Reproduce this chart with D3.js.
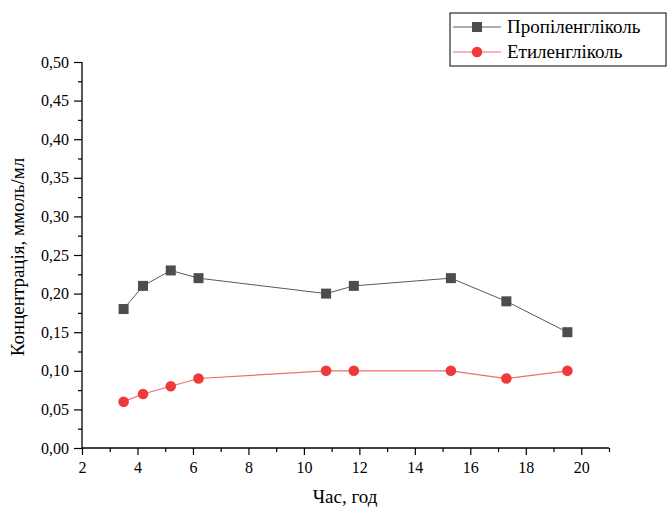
<!DOCTYPE html>
<html>
<head>
<meta charset="utf-8">
<script src="https://cdn.jsdelivr.net/npm/d3@7"></script>
<style>
  html, body { margin: 0; padding: 0; background: #fff; }
</style>
</head>
<body>
<div id="chart"></div>
<script>
// --- data ---
const hours = [3.5, 4.2, 5.2, 6.2, 10.8, 11.8, 15.3, 17.3, 19.5];
const propylene = [0.18, 0.21, 0.23, 0.22, 0.20, 0.21, 0.22, 0.19, 0.15];
const ethylene = [0.06, 0.07, 0.08, 0.09, 0.10, 0.10, 0.10, 0.09, 0.10];
const seriesNames = ["Пропіленгліколь", "Етиленгліколь"];
const xTicks = [2, 4, 6, 8, 10, 12, 14, 16, 18, 20];
const yTicks = [0, 0.05, 0.1, 0.15, 0.2, 0.25, 0.3, 0.35, 0.4, 0.45, 0.5];

const SERIF = "'Liberation Serif', 'Times New Roman', serif";
const W = 668, H = 507;
const svg = d3.select("#chart").append("svg")
    .attr("width", W).attr("height", H);

const x = d3.scaleLinear().domain([2, 21]).range([82, 609]);
const y = d3.scaleLinear().domain([0, 0.5]).range([448, 62]);
const fmt = v => d3.format(".2f")(v).replace(".", ",");

// minor ticks
const xMinor = d3.range(3, 22, 2);
const yMinor = d3.range(0.025, 0.5, 0.05);

const gx = svg.append("g").attr("transform", `translate(0,${y(0)})`);
gx.call(d3.axisBottom(x).tickValues(xTicks).tickSize(7).tickPadding(7).tickFormat(d3.format("d")));
gx.append("g").call(d3.axisBottom(x).tickValues(xMinor).tickSize(4).tickFormat(""))
  .select(".domain").remove();

const gy = svg.append("g").attr("transform", `translate(${x(2)},0)`);
gy.call(d3.axisLeft(y).tickValues(yTicks).tickSize(8).tickPadding(5).tickFormat(fmt));
gy.append("g").call(d3.axisLeft(y).tickValues(yMinor).tickSize(4).tickFormat(""))
  .select(".domain").remove();

svg.selectAll(".domain").attr("stroke", "#000").attr("stroke-width", 1.3);
svg.selectAll(".tick line").attr("stroke", "#000").attr("stroke-width", 1.2);
svg.selectAll(".tick text").style("font-family", SERIF).style("font-size", "16px").attr("fill", "#000");
gx.select(".domain").attr("d", `M${x(2)},0H${x(21)}`);
gy.select(".domain").attr("d", `M0,${y(0.5)}V${y(0)}`);

// axis titles
svg.append("text").attr("x", 345).attr("y", 503).attr("text-anchor", "middle")
  .style("font-family", SERIF).style("font-size", "19px").text("Час, год");
svg.append("text").attr("transform", `translate(24,${(y(0) + y(0.5)) / 2 + 2}) rotate(-90)`)
  .attr("text-anchor", "middle").style("font-family", SERIF).style("font-size", "19px")
  .text("Концентрація, ммоль/мл");

// series
const line = d3.line().x(d => x(d[0])).y(d => y(d[1]));
const propData = hours.map((h, i) => [h, propylene[i]]);
const ethData = hours.map((h, i) => [h, ethylene[i]]);

svg.append("path").datum(propData).attr("d", line)
  .attr("fill", "none").attr("stroke", "#5a5a5a").attr("stroke-width", 1);
svg.append("g").selectAll("rect").data(propData).join("rect")
  .attr("x", d => x(d[0]) - 5).attr("y", d => y(d[1]) - 5)
  .attr("width", 10).attr("height", 10).attr("fill", "#4d4d4d");

svg.append("path").datum(ethData).attr("d", line)
  .attr("fill", "none").attr("stroke", "#f26b6b").attr("stroke-width", 1.2);
svg.append("g").selectAll("circle").data(ethData).join("circle")
  .attr("cx", d => x(d[0])).attr("cy", d => y(d[1])).attr("r", 5.3)
  .attr("fill", "#f0393d");

// legend
const lg = svg.append("g");
lg.append("rect").attr("x", 450).attr("y", 13).attr("width", 216).attr("height", 53)
  .attr("fill", "#fff").attr("stroke", "#000").attr("stroke-width", 1);
const rows = [
  { name: seriesNames[0], stroke: "#5a5a5a", fill: "#4d4d4d", shape: "square", cy: 27 },
  { name: seriesNames[1], stroke: "#f26b6b", fill: "#f0393d", shape: "circle", cy: 52 }
];
rows.forEach(r => {
  lg.append("line").attr("x1", 453).attr("x2", 501).attr("y1", r.cy).attr("y2", r.cy)
    .attr("stroke", r.stroke).attr("stroke-width", 1);
  if (r.shape === "square") {
    lg.append("rect").attr("x", 472).attr("y", r.cy - 5).attr("width", 10).attr("height", 10).attr("fill", r.fill);
  } else {
    lg.append("circle").attr("cx", 477).attr("cy", r.cy).attr("r", 5.3).attr("fill", r.fill);
  }
  lg.append("text").attr("x", 507).attr("y", r.cy + 6)
    .style("font-family", SERIF).style("font-size", "19px").text(r.name);
});
</script>
</body>
</html>
